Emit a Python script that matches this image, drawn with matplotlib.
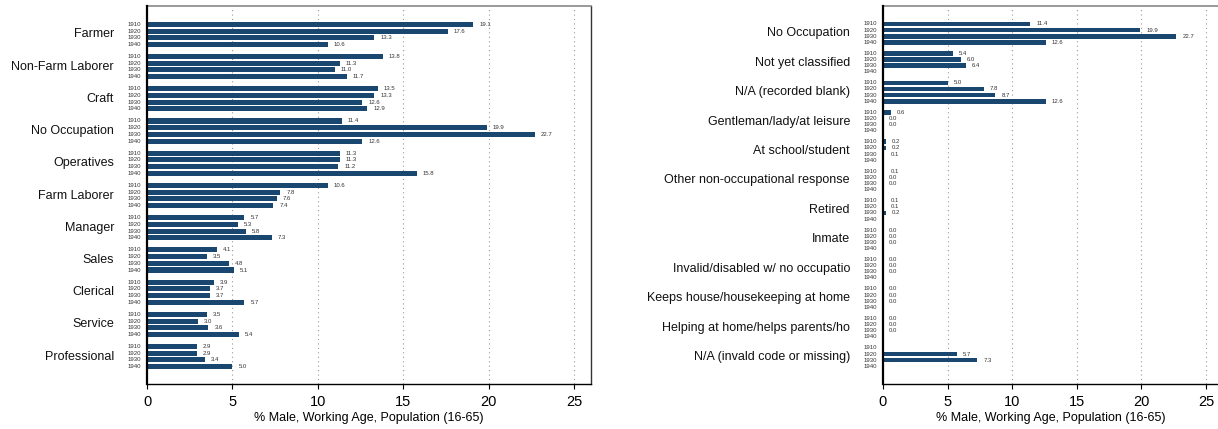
import numpy as np
import matplotlib
matplotlib.use("Agg")
import matplotlib.pyplot as plt

plt.rcParams['font.family'] = ['Liberation Sans', 'DejaVu Sans']

years = ["1910", "1920", "1930", "1940"]

left_cats = ["Farmer", "Non-Farm Laborer", "Craft", "No Occupation", "Operatives",
             "Farm Laborer", "Manager", "Sales", "Clerical", "Service", "Professional"]
left_1910 = [19.1, 13.8, 13.5, 11.4, 11.3, 10.6, 5.7, 4.1, 3.9, 3.5, 2.9]
left_1920 = [17.6, 11.3, 13.3, 19.9, 11.3, 7.8, 5.3, 3.5, 3.7, 3.0, 2.9]
left_1930 = [13.3, 11.0, 12.6, 22.7, 11.2, 7.6, 5.8, 4.8, 3.7, 3.6, 3.4]
left_1940 = [10.6, 11.7, 12.9, 12.6, 15.8, 7.4, 7.3, 5.1, 5.7, 5.4, 5.0]

nan = np.nan
right_cats = ["No Occupation", "Not yet classified", "N/A (recorded blank)",
              "Gentleman/lady/at leisure", "At school/student",
              "Other non-occupational response", "Retired", "Inmate",
              "Invalid/disabled w/ no occupatio", "Keeps house/housekeeping at home",
              "Helping at home/helps parents/ho", "N/A (invald code or missing)"]
right_1910 = [11.4, 5.4, 5.0, 0.6, 0.2, 0.1, 0.1, 0.0, 0.0, 0.0, 0.0, nan]
right_1920 = [19.9, 6.0, 7.8, 0.0, 0.2, 0.0, 0.1, 0.0, 0.0, 0.0, 0.0, 5.7]
right_1930 = [22.7, 6.4, 8.7, 0.0, 0.1, 0.0, 0.2, 0.0, 0.0, 0.0, 0.0, 7.3]
right_1940 = [12.6, nan, 12.6, nan, nan, nan, nan, nan, nan, nan, nan, nan]

xlabel = "% Male, Working Age, Population (16-65)"
BAR = "#1a476f"

W, H = 1218, 429
fig = plt.figure(figsize=(W / 100, H / 100), dpi=100)


def panel(ax, cats, series, top_m, bot_m):
    n = len(cats)
    gap = 0.8
    vals = np.array(series, dtype=float).T  # n x 4
    for k in range(n):
        base = k * (4 + gap)
        for j in range(4):
            y = base + j
            v = vals[k, j]
            ax.annotate(years[j], xy=(0, y), xycoords=('axes fraction', 'data'),
                        xytext=(-6, 0), textcoords='offset pixels',
                        ha='right', va='center', fontsize=4.3, color='#333333')
            if np.isnan(v):
                continue
            ax.barh(y, v, height=0.75, color=BAR, edgecolor='none', zorder=3)
            ax.annotate(f"{v:.1f}", xy=(v, y), xytext=(6, 0),
                        textcoords='offset pixels', ha='left', va='center',
                        fontsize=4.3, color='#333333')
        ax.annotate(cats[k], xy=(0, base + 1.5), xycoords=('axes fraction', 'data'),
                    xytext=(-33, 0), textcoords='offset pixels',
                    ha='right', va='center', fontsize=9, color='#111111')
    last = (n - 1) * (4 + gap) + 3
    ax.set_ylim(last + bot_m, -top_m)
    ax.set_xlim(0, 26)
    ax.set_yticks([])
    ax.set_xticks([0, 5, 10, 15, 20, 25])
    ax.tick_params(axis='x', length=3.5, width=0.8, labelsize=10.5, pad=4.5)
    for x in [5, 10, 15, 20, 25]:
        ax.axvline(x, color='#999999', lw=0.8, ls=(0, (1, 3)), zorder=1)
    ax.spines['left'].set_linewidth(1.6)
    ax.spines['left'].set_color('black')
    ax.spines['bottom'].set_linewidth(1.0)
    ax.spines['bottom'].set_color('black')
    ax.spines['top'].set_color('#888888')
    ax.spines['top'].set_linewidth(1.2)
    ax.spines['right'].set_color('#333333')
    ax.spines['right'].set_linewidth(1.0)
    ax.spines['left'].set_zorder(5)
    ax.set_xlabel(xlabel, fontsize=9, labelpad=2)


ax1 = fig.add_axes([147 / W, 1 - 384 / H, (591 - 147) / W, (384 - 6) / H])
panel(ax1, left_cats, [left_1910, left_1920, left_1930, left_1940], 2.73, 2.58)

ax2 = fig.add_axes([883 / W, 1 - 384 / H, (1219 - 883) / W, (384 - 6) / H])
panel(ax2, right_cats, [right_1910, right_1920, right_1930, right_1940], 2.93, 2.89)

fig.savefig("out.png", dpi=100)
